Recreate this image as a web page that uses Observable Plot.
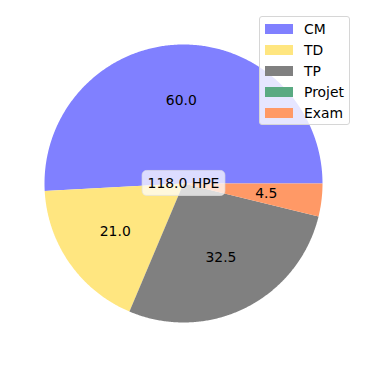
<!DOCTYPE html>
<html><head><meta charset="utf-8">
<script src="https://cdn.jsdelivr.net/npm/d3@7"></script>
<script src="https://cdn.jsdelivr.net/npm/@observablehq/plot@0.6"></script>
<style>
body{margin:0;background:#fff;}
#wrap{position:relative;width:366px;height:366px;font-family:"DejaVu Sans",sans-serif;}
#legend{position:absolute;left:259px;top:16px;width:91px;height:109px;border:1px solid #d6d6d6;border-radius:3px;background:rgba(255,255,255,0.8);box-sizing:border-box;}
.item{position:absolute;left:0;height:20px;width:100%;}
.sw{position:absolute;left:5px;width:28px;height:10px;top:5px;}
.lb{position:absolute;left:44px;top:0;line-height:20px;font-size:13.9px;color:#000;}
</style>
</head><body>
<div id="wrap"></div>
<script>
const categories = ["CM", "TD", "TP", "Projet", "Exam"];
const hours = [60.0, 21.0, 32.5, 0, 4.5];
const colors = ["#8080ff", "#ffe680", "#808080", "#5aaa82", "#ff9966"];
const unitLabel = "HPE";

const total = d3.sum(hours);
const W = 366, H = 366, radiusPx = 139;
const R = (W / 2) / radiusPx;

// slice geometry from the values
const slices = [];
const labels = [];
let acc = 0;
categories.forEach((c, i) => {
  const v = hours[i];
  const a0 = acc / total * 2 * Math.PI;
  acc += v;
  const a1 = acc / total * 2 * Math.PI;
  if (v <= 0) return;
  const n = Math.max(2, Math.ceil((a1 - a0) / (Math.PI / 360)));
  slices.push({cat: c, x: 0, y: 0});
  for (let k = 0; k <= n; k++) {
    const a = a0 + (a1 - a0) * k / n;
    slices.push({cat: c, x: Math.cos(a), y: Math.sin(a)});
  }
  slices.push({cat: c, x: 0, y: 0});
  const m = (a0 + a1) / 2;
  labels.push({cat: c, x: 0.6 * Math.cos(m), y: 0.6 * Math.sin(m), text: v.toFixed(1)});
});

const plot = Plot.plot({
  width: W, height: H,
  margin: 0,
  style: {fontFamily: "DejaVu Sans, sans-serif", background: "transparent"},
  x: {domain: [-R, R], range: [0, W], axis: null},
  y: {domain: [-R, R], range: [H, 0], axis: null},
  color: {domain: categories, range: colors},
  marks: [
    Plot.line(slices, {x: "x", y: "y", z: "cat", fill: "cat", stroke: null, curve: "linear"}),
    Plot.text(labels, {x: "x", y: "y", text: "text", fontSize: 13.9, fill: "#000"}),
    Plot.text([{x: 0, y: 0, t: total.toFixed(1) + " " + unitLabel}], {x: "x", y: "y", text: "t", fontSize: 13.9, fill: "#000", className: "total"})
  ]
});
const wrap = document.getElementById("wrap");
wrap.appendChild(plot);

// rounded box behind total
const t = plot.querySelector(".total text");
if (t) {
  const bb = t.getBBox();
  const px = 5.5, py = 4.5;
  const r = document.createElementNS("http://www.w3.org/2000/svg", "rect");
  r.setAttribute("x", bb.x - px);
  r.setAttribute("y", bb.y - py);
  r.setAttribute("width", bb.width + 2 * px);
  r.setAttribute("height", bb.height + 2 * py);
  r.setAttribute("rx", 4.5);
  r.setAttribute("fill", "rgba(255,255,255,0.72)");
  r.setAttribute("stroke", "rgba(225,225,225,0.7)");
  const tr = t.getAttribute("transform");
  if (tr) r.setAttribute("transform", tr);
  t.parentNode.insertBefore(r, t);
}

// legend
const lg = document.createElement("div");
lg.id = "legend";
categories.forEach((c, i) => {
  const it = document.createElement("div");
  it.className = "item";
  it.style.top = (2 + i * 20.9) + "px";
  const sw = document.createElement("div");
  sw.className = "sw";
  sw.style.background = colors[i];
  const lb = document.createElement("div");
  lb.className = "lb";
  lb.textContent = c;
  it.appendChild(sw); it.appendChild(lb);
  lg.appendChild(it);
});
wrap.appendChild(lg);
</script>
</body></html>
